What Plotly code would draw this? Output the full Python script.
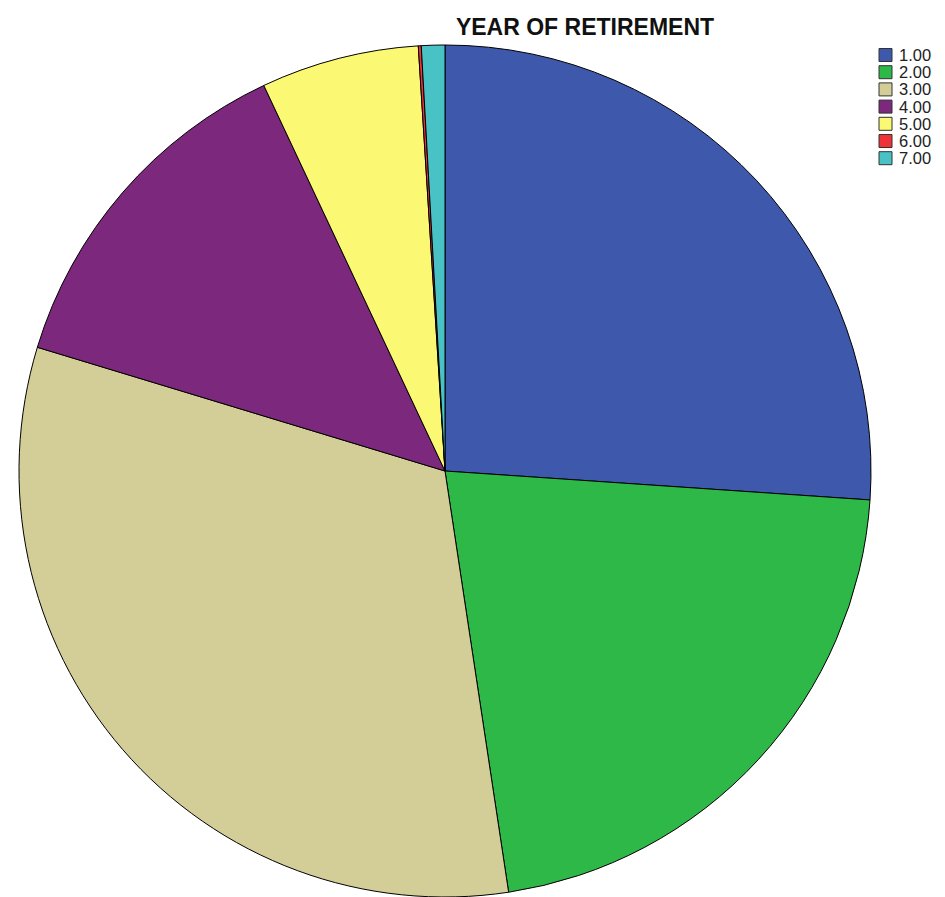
import plotly.graph_objects as go

# Year-of-retirement categories and respondent counts
labels = ["1.00", "2.00", "3.00", "4.00", "5.00", "6.00", "7.00"]
counts = [235, 194, 289, 120, 54, 1, 8]
colors = ["#3E58AC", "#2EB848", "#D3CE97", "#7C287D", "#FBF873", "#EF3338", "#48C2C5"]

W, H = 945, 897

fig = go.Figure(
    go.Pie(
        labels=labels,
        values=counts,
        sort=False,
        direction="clockwise",
        rotation=0,
        textinfo="none",
        marker=dict(colors=colors, line=dict(color="#000000", width=1)),
        domain=dict(x=[19 / W, 871 / W], y=[0, 852 / H]),
        showlegend=False,
    )
)

# Legend drawn as swatches with labels, stacked in the top-right corner
row0, row_step, box = 55, 17.2, 13
for i, (lab, col) in enumerate(zip(labels, colors)):
    cy = row0 + i * row_step
    fig.add_shape(
        type="rect", xref="paper", yref="paper",
        x0=879 / W, x1=(879 + box) / W,
        y0=1 - (cy + box / 2) / H, y1=1 - (cy - box / 2) / H,
        fillcolor=col, line=dict(color="#333333", width=1),
    )
    fig.add_annotation(
        x=897 / W, y=1 - cy / H, xref="paper", yref="paper",
        text=lab, showarrow=False, xanchor="left", yanchor="middle",
        font=dict(family="Liberation Sans, Arial, sans-serif", size=16.5, color="#222222"),
    )

fig.update_layout(
    width=W,
    height=H,
    margin=dict(l=0, r=0, t=0, b=0),
    paper_bgcolor="white",
    plot_bgcolor="white",
    title=dict(
        text="<b>YEAR OF RETIREMENT</b>",
        x=585 / W, xanchor="center",
        y=1 - 27 / H, yanchor="middle", yref="container",
        font=dict(family="Liberation Sans, Arial, sans-serif", size=23, color="#111111"),
    ),
)

fig.write_html("out.html")
